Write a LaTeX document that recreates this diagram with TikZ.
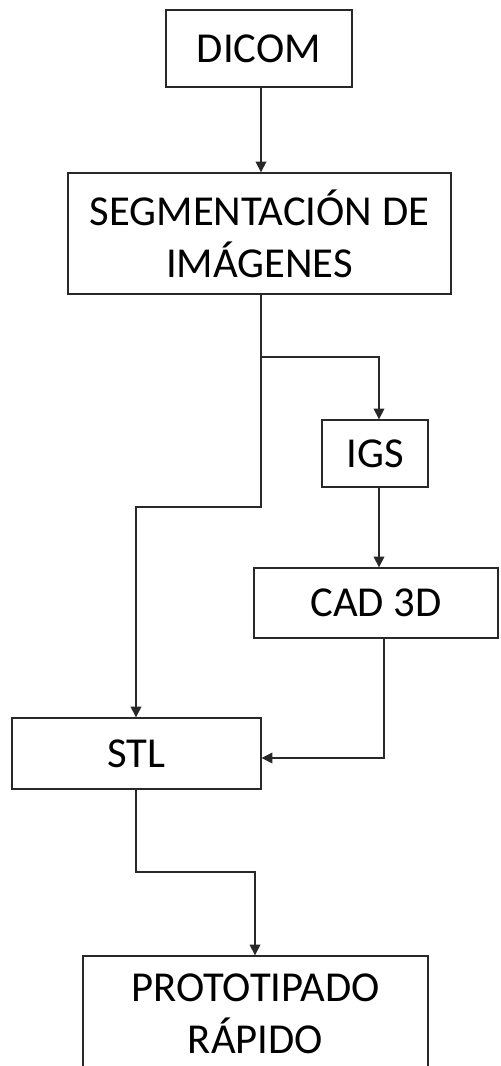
\documentclass[tikz,border=0pt]{standalone}
\usepackage{fontspec}
\setmainfont{Carlito}
\usepackage{tikz}
\usetikzlibrary{positioning,arrows.meta}
\definecolor{linegrey}{RGB}{40,40,40}
\tikzset{
    box/.style={
        draw=linegrey,
        line width=1pt,
        fill=white,
        align=center,
        inner sep=0pt,
        font=\fontsize{32}{39}\selectfont
    },
    link/.style={draw=linegrey, line width=1pt},
    arrow/.style={-{Triangle[width=8pt,length=8pt]}, link}
}

\begin{document}
\begin{tikzpicture}[x=0.75pt,y=-0.75pt]

\useasboundingbox (0,0) rectangle (500,1066);
\clip (0,0) rectangle (500,1066);

\node[box, minimum width=139.5pt, minimum height=57.75pt] (dicom) at (259,48.5)
{DICOM};

\node[box, minimum width=287.25pt, minimum height=90.75pt] (seg) at (259.5,233.5)
{SEGMENTACIÓN DE\\IMÁGENES};

\node[box, minimum width=79.5pt, minimum height=50.25pt] (igs) at (375,453.5)
{IGS};

\node[box, minimum width=183pt, minimum height=52.5pt] (cad) at (376,603)
{CAD 3D};

\node[box, minimum width=186.75pt, minimum height=53.25pt] (stl) at (136.5,753.5)
{STL};

\node[box, minimum width=258.75pt, minimum height=87pt] (proto) at (255.5,1014)
{PROTOTIPADO\\RÁPIDO};

% ------------------------------------------------------------
% connectors
% ------------------------------------------------------------

\coordinate (split) at (261,357);
\coordinate (igsx) at (379,0);
\coordinate (stlin) at (136,507);
\coordinate (cadout) at (384,758);
\coordinate (stlout) at (136,872);
\coordinate (protin) at (255,872);

\draw[arrow] (dicom.south -| split) -- (seg.north -| split);

\draw[link] (seg.south -| split) -- (split);
\draw[arrow] (split) -| (igs.north -| igsx);
\draw[arrow] (split) |- (stlin) -- (stl.north -| stlin);

\draw[arrow] (igs.south -| igsx) -- (cad.north -| igsx);
\draw[arrow] (cad.south -| cadout) -- (cadout) -- (stl.east |- cadout);

\draw[arrow] (stl.south -| stlout) -- (stlout) -- (protin) -- (proto.north -| protin);

\end{tikzpicture}
\end{document}
